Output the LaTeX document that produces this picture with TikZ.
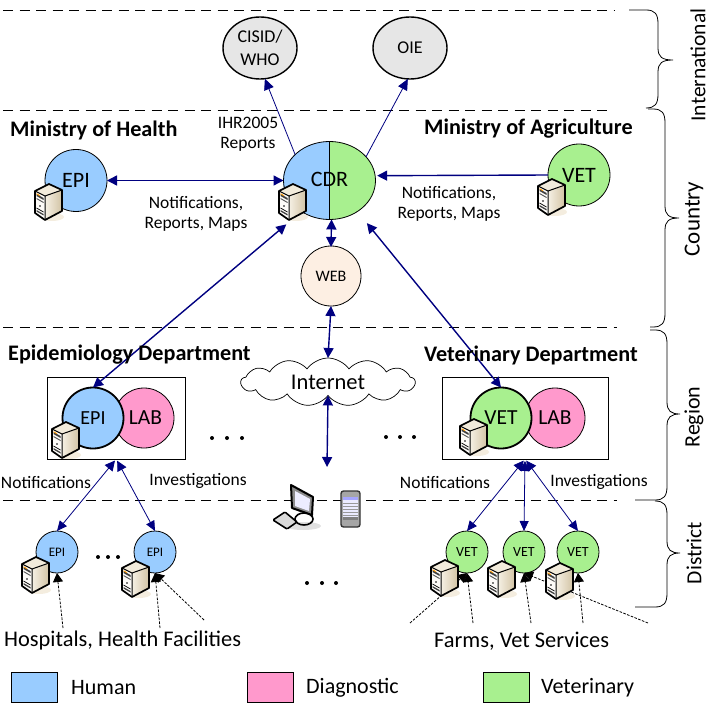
\documentclass[tikz,border=0pt]{standalone}
\usepackage{fontspec}
\setmainfont{Carlito}
\usetikzlibrary{arrows.meta,shapes.geometric,shapes.symbols}
\definecolor{cblue}{HTML}{99CCFF}
\definecolor{cpink}{HTML}{FF99CC}
\definecolor{cgreen}{HTML}{A8F08F}
\definecolor{cweb}{HTML}{FDEFE3}
\definecolor{cgrey}{HTML}{E6E6E6}
\definecolor{cnavy}{HTML}{000080}
\definecolor{cbeige}{HTML}{EFE6D2}
\definecolor{cshade}{HTML}{D2C3A4}
\newcommand{\fs}[1]{\fontsize{#1}{#1}\selectfont}
\newcommand{\bracedraw}[7]{% xtop,xm,xtip,ytop,ymid,ybot,xbot
 \draw[bracestyle] (#1,#4) -- ({#2-12},#4) .. controls ({#2-3},#4) and (#2,{#4+4}) .. (#2,{#4+14})
   -- (#2,{#5-12}) .. controls (#2,{#5-3}) and ({#2+4},#5) .. (#3,#5)
   .. controls ({#2+4},#5) and (#2,{#5+3}) .. (#2,{#5+12})
   -- (#2,{#6-14}) .. controls (#2,{#6-4}) and ({#2-3},#6) .. ({#2-12},#6) -- (#7,#6);}
\tikzset{
 x=1pt,y=-1pt,
 band/.style={line width=0.9pt,dash pattern=on 10pt off 6.5pt},
 bracestyle/.style={line width=0.8pt,black},
 disc/.style={circle,draw=black,line width=0.8pt,inner sep=0,outer sep=0},
 ovalnode/.style={ellipse,draw=black,line width=1.4pt,fill=cgrey,inner sep=0,outer sep=0,minimum width=74pt,minimum height=62pt,font=\fs{18},align=center},
 bold disc/.style={disc,line width=1.8pt},
 deptbox/.style={rectangle,draw=black,line width=0.8pt,inner sep=0,outer sep=0,fill=white},
 swatch/.style={rectangle,draw=black,line width=0.9pt,inner sep=0,outer sep=0,minimum width=46pt,minimum height=30pt},
 legendtext/.style={anchor=west,font=\fs{22},inner sep=0},
 headtext/.style={font=\bfseries\fs{22.2},inner sep=0,anchor=west},
 labeltext/.style={font=\fs{17.5},inner sep=0,align=center},
 bigarrow/.style={cnavy,line width=1.4pt,{Triangle[length=10pt,width=10pt]}-{Triangle[length=10pt,width=10pt]}},
 onearrow/.style={cnavy,line width=1.4pt,-{Triangle[length=10pt,width=10pt]}},
 thinup/.style={cnavy,line width=0.8pt,-{Triangle[length=11pt,width=10pt]}},
 thinboth/.style={cnavy,line width=0.8pt,{Triangle[length=10pt,width=10pt]}-{Triangle[length=10pt,width=9pt]}},
 feeder/.style={black,line width=0.8pt,dash pattern=on 2.6pt off 1.4pt,-{Triangle[length=9pt,width=10pt]}},
 serverpic/.pic={
  \fill[cbeige!70] (17,33) ellipse [x radius=12,y radius=4];
  \shade[left color=cbeige!60,right color=cshade] (10,12) -- (27,6) -- (27,27) -- (10,36) -- cycle;
  \fill[cbeige!80!white] (0,7) -- (14,0) -- (27,6) -- (10,12) -- cycle;
  \fill[white!85!cbeige] (0,7) -- (10,12) -- (10,36) -- (0,29) -- cycle;
  \fill[black!75] (1.5,10) -- (8.5,14) -- (8.5,16) -- (1.5,12) -- cycle;
  \fill[orange!80!yellow] (1.5,9.2) -- (5,11.2) -- (5,12.2) -- (1.5,10.2) -- cycle;
  \fill[black!70] (1.5,14) -- (8.5,18) -- (8.5,19) -- (1.5,15) -- cycle;
  \fill[black] (5,22) circle (0.9);
  \fill[black!75] (1.5,26) -- (8.5,30) -- (8.5,31.5) -- (1.5,27.5) -- cycle;
  \draw[black,line width=0.7pt] (1.5,24) -- (8.5,28);
  \draw[black,line width=1.7pt,line join=round] (0,7) -- (14,0) -- (27,6) -- (27,27) -- (10,36) -- (0,29) -- cycle;
  \draw[black,line width=1pt,line join=round] (0,7) -- (10,12) -- (27,6) (10,12) -- (10,36);
 },
}
\begin{document}
\begin{tikzpicture}
\useasboundingbox (0,0) rectangle (710,711);
% level lines
\coordinate (l1a) at (3,10);\coordinate (l1b) at (614,10);
\coordinate (l2a) at (3,110);\coordinate (l2b) at (611,110);
\coordinate (l3a) at (3,327);\coordinate (l3b) at (617,327);
\coordinate (l4a) at (3,500);\coordinate (l4b) at (617,500);
\draw[band] (l1a) -- (l1b);
\draw[band] (l2a) -- (l2b);
\draw[band] (l3a) -- (l3b);
\draw[band] (l4a) -- (l4b);
% braces
\bracedraw{629}{658}{673}{10}{60}{108}{648}
\bracedraw{648}{665}{679}{109}{218}{327}{650}
\bracedraw{650}{667}{680}{330}{414}{500}{635}
\bracedraw{655}{667}{680}{501}{553}{607}{635}
\node[rotate=90,font=\fs{21.5},inner sep=0] (tint) at (698,65) {International};
\node[rotate=90,font=\fs{23},inner sep=0] (tcou) at (694,219) {Country};
\node[rotate=90,font=\fs{22},inner sep=0] (treg) at (694,417) {Region};
\node[rotate=90,font=\fs{21.5},inner sep=0] (tdis) at (694,553) {District};
% international
\node[ovalnode] (cisid) at (260,48) {CISID/\\[5pt]WHO};
\node[ovalnode] (oie) at (410,48) {OIE};
% country
\node[disc,fill=cblue,minimum size=62pt,font=\fs{22}] (epim) at (76,180.5) {EPI};
\node[disc,fill=cgreen,minimum size=62pt,font=\fs{22}] (vetm) at (579,175) {VET};
\fill[cblue] (329.5,219.5) arc (90:270:46.5 and 39) -- cycle;
\fill[cgreen] (329.5,219.5) arc (90:-90:46 and 39) -- cycle;
\node[ellipse,draw=black,line width=0.8pt,inner sep=0,outer sep=0,minimum width=92pt,minimum height=78pt] (cdr) at (329.5,180.5) {};
\draw[black,line width=0.8pt] (cdr.north) -- (cdr.south);
\node[font=\fs{22},inner sep=0] (cdrt) at (329.5,179) {CDR};
\node[disc,fill=cweb,minimum size=60pt,font=\fs{16}] (web) at (331,276) {WEB};
% region
\node[deptbox,minimum width=138pt,minimum height=82pt] (epibox) at (116.25,418) {};
\node[deptbox,minimum width=166pt,minimum height=82pt] (vetbox) at (525,418) {};
\node[disc,fill=cpink,minimum size=60pt,font=\fs{21.5}] (labe) at (144,418) {\hspace*{3pt}LAB};
\node[bold disc,fill=cblue,minimum size=61pt,font=\fs{20}] (epid) at (93,418) {EPI};
\node[disc,fill=cpink,minimum size=60pt,font=\fs{21.5}] (labv) at (555,418) {LAB};
\node[bold disc,fill=cgreen,minimum size=61pt,font=\fs{21.5}] (vetd) at (501,418) {VET};
% internet
\node[cloud,draw=black,line width=0.7pt,fill=white,cloud puffs=13,cloud puff arc=110,aspect=3.6,inner sep=0,outer sep=0,minimum width=174pt,minimum height=48pt,font=\fs{22.5}] (net) at (328,382) {Internet};
% districts
\foreach \nm/\xx/\col/\txt/\sz in {de1/57/cblue/EPI/13,de2/155/cblue/EPI/13,dv1/467/cgreen/VET/14,dv2/524/cgreen/VET/14,dv3/578/cgreen/VET/14}
  \node[disc,fill=\col,minimum size=42pt,font=\fs{\sz}] (\nm) at (\xx,552) {\txt};
% connectors
\draw[thinup] (cdr.143) -- (cisid.-81);
\draw[thinup] (cdr.33) -- (oie.266);
\draw[bigarrow] (epim.east) -- (cdr.west);
\draw[onearrow,shorten >=2pt] (vetm.west) -- (cdr.6);
\draw[bigarrow,shorten >=-1pt] (cdr.-87) -- (web.north);
\draw[bigarrow] (web.south) -- (net.north);
\coordinate (devtop) at (327,467);
\draw[bigarrow] (net.south) -- (devtop);
\draw[bigarrow,shorten <=20pt] (cdr.228) -- (epid.north);
\draw[bigarrow,shorten <=15pt] (cdr.-48) -- (vetd.north);
\draw[thinboth,shorten <=2pt] (epibox.south) -- (de1.north);
\draw[thinboth,shorten <=2pt] (epibox.south) -- (de2.north);
\draw[thinboth,shorten <=2pt] (vetbox.south) -- (dv1.north);
\draw[thinboth,shorten <=2pt] (vetbox.south) -- (dv2.north);
\draw[thinboth,shorten <=2pt] (vetbox.south) -- (dv3.north);
% feeders
\coordinate (f1) at (63,628);\coordinate (f2) at (160,628);\coordinate (f3) at (204,620);
\coordinate (f4) at (410,623);\coordinate (f5) at (473,623);\coordinate (f6) at (531,623);
\coordinate (f7) at (648,623);\coordinate (f8) at (583,623);
\draw[feeder] (f1) -- (de1.south);
\draw[feeder] (f2) -- (de2.south);
\draw[feeder] (f3) -- (de2.south);
\draw[feeder] (f4) -- (dv1.south);
\draw[feeder] (f5) -- (dv1.south);
\draw[feeder] (f6) -- (dv2.south);
\draw[feeder] (f7) -- (dv2.south);
\draw[feeder] (f8) -- (dv3.south);
% servers
\pic at (35,184) {serverpic};
\pic at (279,184) {serverpic};
\pic at (538,179) {serverpic};
\pic at (52,422) {serverpic};
\pic at (460,419) {serverpic};
\pic at (22,557) {serverpic};
\pic at (122,561) {serverpic};
\pic at (431,560) {serverpic};
\pic at (488,561) {serverpic};
\pic at (546,563) {serverpic};
% devices
\fill[black!12] (303,526) ellipse [x radius=18,y radius=4];
\filldraw[fill=black!15,draw=black,line width=1.6pt,rounded corners=1pt] (273,520) -- (285,512) -- (297,522) -- (287,529) -- cycle;
\draw[black,line width=1.6pt] (304,519) ellipse [x radius=9,y radius=6];
\filldraw[fill=black!45,draw=black,line width=2pt,line join=round] (291,485) -- (313,497) -- (312,515) -- (292,508) -- cycle;
\fill[blue!7] (295,491) -- (310,499) -- (309,511) -- (295,506) -- cycle;
\filldraw[fill=black!35,draw=black!80,line width=1.4pt,rounded corners=2.5pt] (341,491) rectangle (360,527);
\fill[white!92!blue] (343,497) rectangle (358,520);
\fill[blue!35] (343,497) rectangle (358,500);
\foreach \yy in {503,506,509,512,515}
  \draw[black!40,line width=0.4pt] (343,\yy) -- (358,\yy);
\fill[black!50] (343,517) rectangle (358,520);
% texts
\node[headtext] (hmoh) at (10,130) {Ministry of Health};
\node[headtext] (hmoa) at (424,129) {Ministry of Agriculture};
\node[headtext] (hepi) at (8,355) {Epidemiology Department};
\node[headtext] (hvet) at (424,355) {Veterinary Department};
\node[labeltext] (tihr) at (248,134) {IHR2005\\[3pt]Reports};
\node[labeltext] (tn1) at (196,214) {Notifications,\\[3pt]Reports, Maps};
\node[labeltext] (tn2) at (449,204) {Notifications,\\[3pt]Reports, Maps};
\node[labeltext] (tn3) at (46,483) {Notifications};
\node[labeltext] (ti3) at (198,481) {Investigations};
\node[labeltext] (tn4) at (445,483) {Notifications};
\node[labeltext] (ti4) at (599,482) {Investigations};
\node[font=\fs{22.4},inner sep=0,anchor=west] (thos) at (4,641) {Hospitals, Health Facilities};
\node[font=\fs{22.4},inner sep=0,anchor=west] (tfar) at (434,641) {Farms, Vet Services};
% dots
\foreach \xx/\yy in {212/438,227/438,242/438,386/437,400/437,414/437,98/557,108/557,118/557,307/583,322/583,336/583}
  \fill[black] (\xx,\yy) circle (2);
% legend
\node[swatch,fill=cblue] (sw1) at (34.5,687) {};
\node[swatch,fill=cpink] (sw2) at (270.5,687) {};
\node[swatch,fill=cgreen] (sw3) at (506,687) {};
\node[legendtext] (lg1) at (71,688) {Human};
\node[legendtext] (lg2) at (306,688) {Diagnostic};
\node[legendtext] (lg3) at (541,688) {Veterinary};
\end{tikzpicture}
\end{document}
